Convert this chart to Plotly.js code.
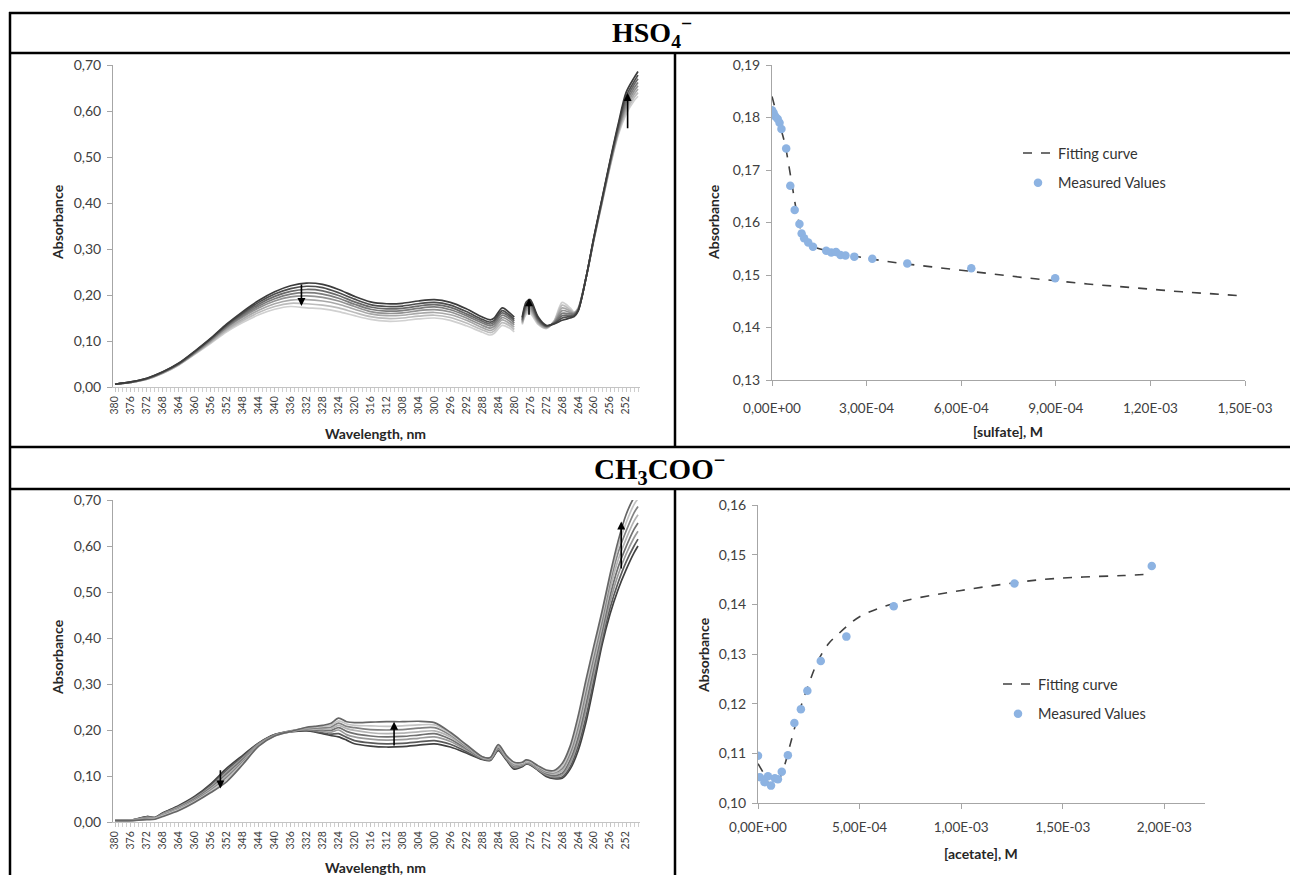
<!DOCTYPE html>
<html><head><meta charset="utf-8">
<script src="https://cdn.plot.ly/plotly-3.0.1.min.js"></script>
<style>html,body{margin:0;padding:0;background:#fff;}#chart{width:1290px;height:875px;}</style>
</head><body><div id="chart"></div>
<script>
// ---------- DATA ----------
// HSO4- titration spectra (wavelength, nm)
const WL_HSO4 = [380,376,372,368,364,360,356,352,348,344,340,336,332,328,324,320,316,312,308,304,300,296,292,
  288,286,285,283,281,280,279,278,277,276,274,272,270,268,266,265,264,262,260,258,256,254,252,250,249];
const HSO4_S0 = [0.006,0.011,0.019,0.033,0.052,0.078,0.106,0.137,0.164,0.188,0.207,0.220,0.226,0.223,0.212,0.197,0.185,0.181,0.182,0.187,0.190,0.184,0.170,
  0.152,0.146,0.150,0.172,0.160,0.152,null,0.152,0.185,0.190,0.152,0.134,0.137,0.145,0.150,0.153,0.165,0.238,0.328,0.410,0.492,0.570,0.640,0.672,0.686];
const HSO4_S1 = [0.006,0.011,0.019,0.033,0.051,0.077,0.105,0.135,0.161,0.184,0.202,0.214,0.219,0.216,0.205,0.191,0.179,0.175,0.176,0.181,0.184,0.178,0.164,
  0.147,0.141,0.145,0.166,0.155,0.147,null,0.149,0.180,0.186,0.149,0.133,0.138,0.150,0.153,0.155,0.166,0.238,0.327,0.408,0.490,0.566,0.632,0.664,0.678];
const HSO4_S2 = [0.006,0.011,0.018,0.032,0.051,0.076,0.104,0.133,0.158,0.180,0.197,0.208,0.212,0.209,0.199,0.185,0.174,0.170,0.171,0.176,0.179,0.173,0.159,
  0.143,0.137,0.141,0.161,0.151,0.143,null,0.146,0.176,0.181,0.146,0.132,0.139,0.155,0.156,0.157,0.167,0.238,0.326,0.407,0.488,0.562,0.624,0.657,0.670];
const HSO4_S3 = [0.006,0.010,0.018,0.032,0.050,0.075,0.102,0.131,0.155,0.176,0.192,0.202,0.205,0.202,0.193,0.180,0.169,0.165,0.166,0.171,0.174,0.168,0.155,
  0.139,0.133,0.137,0.156,0.147,0.139,null,0.144,0.172,0.176,0.144,0.131,0.140,0.160,0.159,0.159,0.168,0.238,0.325,0.405,0.486,0.558,0.617,0.650,0.662];
const HSO4_S4 = [0.006,0.010,0.018,0.031,0.050,0.074,0.101,0.129,0.152,0.172,0.187,0.196,0.198,0.195,0.187,0.175,0.164,0.160,0.161,0.166,0.168,0.163,0.150,
  0.134,0.128,0.132,0.151,0.142,0.135,null,0.142,0.168,0.172,0.142,0.130,0.141,0.166,0.162,0.160,0.169,0.238,0.324,0.404,0.484,0.555,0.610,0.643,0.655];
const HSO4_S5 = [0.006,0.010,0.017,0.031,0.049,0.073,0.099,0.126,0.148,0.167,0.181,0.189,0.190,0.187,0.180,0.169,0.159,0.155,0.156,0.160,0.162,0.157,0.145,
  0.129,0.123,0.127,0.146,0.137,0.130,null,0.140,0.165,0.168,0.140,0.129,0.142,0.172,0.165,0.161,0.170,0.238,0.323,0.402,0.482,0.552,0.604,0.636,0.648];
const HSO4_S6 = [0.006,0.010,0.017,0.030,0.048,0.072,0.097,0.123,0.144,0.162,0.175,0.182,0.181,0.178,0.172,0.162,0.153,0.149,0.150,0.154,0.156,0.151,0.139,
  0.124,0.118,0.122,0.140,0.132,0.125,null,0.138,0.161,0.164,0.138,0.128,0.143,0.178,0.168,0.162,0.171,0.238,0.322,0.401,0.480,0.549,0.598,0.629,0.640];
const HSO4_S7 = [0.006,0.010,0.017,0.030,0.048,0.071,0.095,0.120,0.140,0.157,0.169,0.175,0.172,0.170,0.164,0.155,0.147,0.143,0.144,0.148,0.150,0.145,0.133,
  0.119,0.113,0.117,0.134,0.127,0.120,null,0.136,0.158,0.160,0.136,0.127,0.144,0.184,0.172,0.163,0.172,0.238,0.321,0.400,0.478,0.546,0.592,0.622,0.632];

// CH3COO- titration spectra
const WL_ACET = [380,376,372,370,368,364,360,356,352,348,344,340,336,332,330,328,326,324,322,320,316,312,308,304,300,296,292,288,
  286,284,282,280,278,277,276,274,272,270,268,266,264,262,260,258,256,254,252,250,249];
const ACET_S0 = [0.004,0.004,0.012,0.010,0.020,0.036,0.056,0.083,0.117,0.145,0.172,0.190,0.196,0.198,0.196,0.192,0.188,0.185,0.178,0.170,0.165,0.163,0.164,0.167,0.170,0.163,0.150,0.136,
  0.134,0.155,0.135,0.115,0.120,0.126,0.124,0.112,0.099,0.094,0.095,0.115,0.155,0.218,0.300,0.385,0.452,0.505,0.548,0.585,0.600];
const ACET_S1 = [0.004,0.004,0.011,0.009,0.019,0.034,0.054,0.080,0.113,0.142,0.171,0.190,0.197,0.200,0.197,0.194,0.191,0.192,0.184,0.177,0.172,0.170,0.171,0.174,0.177,0.169,0.153,0.137,
  0.135,0.157,0.137,0.117,0.122,0.127,0.125,0.113,0.101,0.096,0.098,0.120,0.165,0.230,0.312,0.395,0.465,0.520,0.565,0.600,0.615];
const ACET_S2 = [0.004,0.004,0.010,0.009,0.018,0.033,0.052,0.077,0.109,0.139,0.170,0.189,0.197,0.201,0.199,0.197,0.195,0.200,0.190,0.185,0.180,0.178,0.179,0.182,0.185,0.175,0.157,0.138,
  0.136,0.159,0.138,0.119,0.123,0.128,0.126,0.114,0.103,0.098,0.102,0.127,0.175,0.245,0.325,0.405,0.478,0.537,0.582,0.618,0.632];
const ACET_S3 = [0.004,0.004,0.009,0.008,0.017,0.031,0.050,0.074,0.105,0.136,0.169,0.189,0.198,0.202,0.200,0.200,0.199,0.205,0.197,0.192,0.187,0.185,0.186,0.189,0.192,0.180,0.160,0.139,
  0.137,0.161,0.140,0.121,0.124,0.129,0.128,0.116,0.105,0.101,0.106,0.135,0.185,0.258,0.338,0.415,0.492,0.553,0.598,0.636,0.650];
const ACET_S4 = [0.004,0.004,0.008,0.008,0.016,0.030,0.048,0.072,0.101,0.133,0.168,0.188,0.197,0.203,0.202,0.203,0.202,0.210,0.203,0.199,0.194,0.192,0.193,0.196,0.198,0.185,0.162,0.140,
  0.138,0.163,0.141,0.123,0.125,0.130,0.129,0.117,0.107,0.104,0.111,0.143,0.196,0.272,0.350,0.426,0.506,0.569,0.615,0.654,0.668];
const ACET_S5 = [0.003,0.003,0.007,0.007,0.015,0.028,0.047,0.069,0.097,0.131,0.167,0.188,0.197,0.204,0.204,0.205,0.206,0.215,0.208,0.205,0.201,0.200,0.201,0.204,0.205,0.189,0.164,0.141,
  0.139,0.165,0.142,0.125,0.127,0.132,0.130,0.119,0.109,0.107,0.116,0.150,0.207,0.285,0.362,0.437,0.520,0.585,0.632,0.672,0.686];
const ACET_S6 = [0.003,0.003,0.006,0.007,0.014,0.027,0.045,0.067,0.093,0.128,0.166,0.187,0.197,0.205,0.206,0.208,0.210,0.220,0.213,0.210,0.209,0.208,0.209,0.211,0.211,0.192,0.166,0.141,
  0.139,0.166,0.143,0.127,0.128,0.133,0.131,0.120,0.111,0.109,0.121,0.157,0.218,0.298,0.374,0.448,0.530,0.598,0.650,0.690,0.703];
const ACET_S7 = [0.003,0.003,0.005,0.006,0.012,0.025,0.043,0.064,0.088,0.125,0.165,0.187,0.197,0.206,0.208,0.210,0.214,0.226,0.218,0.216,0.217,0.218,0.218,0.219,0.216,0.195,0.168,0.142,
  0.140,0.168,0.145,0.130,0.130,0.135,0.133,0.122,0.113,0.112,0.127,0.165,0.230,0.310,0.385,0.458,0.538,0.610,0.668,0.705,0.715];

// Sulfate binding isotherm
const SULF_CONC = [0,5e-6,1.1e-5,1.8e-5,2.4e-5,3.0e-5,4.5e-5,5.8e-5,7.2e-5,8.7e-5,9.4e-5,1.02e-4,1.15e-4,1.30e-4,1.72e-4,1.88e-4,2.03e-4,2.17e-4,2.33e-4,2.61e-4,3.18e-4,4.29e-4,6.32e-4,8.98e-4];
const SULF_ABS  = [0.1814,0.1809,0.1802,0.1797,0.1790,0.1778,0.1741,0.1670,0.1624,0.1597,0.1579,0.1570,0.1562,0.1554,0.1546,0.1543,0.1544,0.1538,0.1537,0.1535,0.1531,0.1522,0.1513,0.1494];
const SULF_FIT_X = [0,2e-5,4e-5,6e-5,8e-5,1e-4,1.2e-4,1.5e-4,2e-4,3e-4,4e-4,5e-4,6e-4,7e-4,8e-4,9e-4,1e-3,1.1e-3,1.2e-3,1.3e-3,1.4e-3,1.5e-3];
const SULF_FIT_Y = [0.1840,0.1795,0.1752,0.1685,0.1615,0.1572,0.1558,0.1550,0.1543,0.1532,0.1523,0.1516,0.1509,0.1502,0.1495,0.1489,0.1483,0.1478,0.1473,0.1468,0.1464,0.1460];

// Acetate binding isotherm
const ACET_CONC = [0,9.4e-6,3.2e-5,4.9e-5,6.4e-5,8.3e-5,9.8e-5,1.17e-4,1.47e-4,1.79e-4,2.11e-4,2.43e-4,3.09e-4,4.35e-4,6.68e-4,1.262e-3,1.938e-3];
const ACET_ABS  = [0.1095,0.1052,0.1042,0.1054,0.1035,0.1050,0.1048,0.1063,0.1096,0.1161,0.1189,0.1226,0.1286,0.1335,0.1396,0.1442,0.1477];
const ACET_FIT_X = [0,3e-5,6.5e-5,1e-4,1.3e-4,1.6e-4,2e-4,2.5e-4,3e-4,3.5e-4,4e-4,4.5e-4,5e-4,6e-4,7e-4,8e-4,1e-3,1.2e-3,1.4e-3,1.6e-3,1.8e-3,1.94e-3];
const ACET_FIT_Y = [0.1079,0.1058,0.1033,0.1045,0.1075,0.1120,0.1180,0.1240,0.1290,0.1322,0.1342,0.1360,0.1375,0.1393,0.1405,0.1414,0.1428,0.1440,0.1450,0.1455,0.1458,0.1461];

// Tick labels
const WL_TICKS = [380,376,372,368,364,360,356,352,348,344,340,336,332,328,324,320,316,312,308,304,300,296,292,288,284,280,276,272,268,264,260,256,252];
const SULF_TICKS = [0,3e-4,6e-4,9e-4,1.2e-3,1.5e-3];
const SULF_TICK_TEXT = ['0,00E+00','3,00E-04','6,00E-04','9,00E-04','1,20E-03','1,50E-03'];
const ACET_TICKS = [0,5e-4,1e-3,1.5e-3,2e-3];
const ACET_TICK_TEXT = ['0,00E+00','5,00E-04','1,00E-03','1,50E-03','2,00E-03'];

// ---------- BUILD ----------
const W = 1290, H = 875;
const PX = v => v / W, PY = v => 1 - v / H;
const FONT = 'Lato, "Open Sans", "Liberation Sans", sans-serif';
const SERIF = '"Liberation Serif", "Times New Roman", serif';

const HSO4_SET = [HSO4_S0,HSO4_S1,HSO4_S2,HSO4_S3,HSO4_S4,HSO4_S5,HSO4_S6,HSO4_S7];
const HSO4_COL = ['#3c3c3c','#4e4e4e','#6a6a6a','#7c7c7c','#929292','#a8a8a8','#bcbcbc','#d0d0d0'];
const ACET_SET = [ACET_S0,ACET_S1,ACET_S2,ACET_S3,ACET_S4,ACET_S5,ACET_S6,ACET_S7];
const ACET_COL = ['#404040','#5a5a5a','#9a9a9a','#707070','#b4b4b4','#828282','#c4c4c4','#666666'];

const traces = [];
HSO4_SET.slice().reverse().forEach((s,i)=>{
  const k = HSO4_SET.length-1-i;
  traces.push({x:WL_HSO4, y:s, xaxis:'x', yaxis:'y', mode:'lines', connectgaps:false,
    line:{color:HSO4_COL[k], width:1.7, shape:'spline', smoothing:0.8}, showlegend:false, hoverinfo:'skip'});
});
ACET_SET.forEach((s,k)=>{
  traces.push({x:WL_ACET, y:s, xaxis:'x3', yaxis:'y3', mode:'lines',
    line:{color:ACET_COL[k], width:1.7, shape:'spline', smoothing:0.8}, showlegend:false, hoverinfo:'skip'});
});
traces.push({x:SULF_FIT_X, y:SULF_FIT_Y, xaxis:'x2', yaxis:'y2', mode:'lines', name:'Fitting curve',
  line:{color:'#404040', width:1.6, dash:'dash', shape:'spline'}, legend:'legend', legendgroup:'f1'});
traces.push({x:SULF_CONC, y:SULF_ABS, xaxis:'x2', yaxis:'y2', mode:'markers', name:'Measured Values',
  marker:{color:'#8DB3E2', size:8.5}, legend:'legend', legendgroup:'m1'});
traces.push({x:ACET_FIT_X, y:ACET_FIT_Y, xaxis:'x4', yaxis:'y4', mode:'lines', name:'Fitting curve',
  line:{color:'#404040', width:1.6, dash:'dash', shape:'spline'}, legend:'legend2', legendgroup:'f2'});
traces.push({x:ACET_CONC, y:ACET_ABS, xaxis:'x4', yaxis:'y4', mode:'markers', name:'Measured Values',
  marker:{color:'#8DB3E2', size:8.5}, legend:'legend2', legendgroup:'m2'});

function axis(extra){
  return Object.assign({showline:true, linecolor:'#a6a6a6', linewidth:1, ticks:'outside', ticklen:5,
    tickcolor:'#a6a6a6', showgrid:false, zeroline:false, automargin:false, fixedrange:true,
    tickfont:{family:FONT, size:14, color:'#404040'}}, extra);
}
function yAxis(extra){ return axis(Object.assign({ticklabelstandoff:3}, extra)); }
function wlAxis(anchor){
  return axis({anchor:anchor, domain:[PX(113),PX(640)], range:[380.5,248.5], tickmode:'array',
    tickvals:WL_TICKS, ticktext:WL_TICKS.map(String), tickangle:-90, ticklen:4, tickcolor:'#c4c4c4',
    linecolor:'#c4c4c4', tickfont:{family:FONT, size:10.5, color:'#404040'},
    minor:{tickmode:'linear', tick0:380, dtick:1, ticks:'outside', ticklen:4, tickcolor:'#cfcfcf'}});
}

const ann = [];
function txt(x,y,t,opt){ ann.push(Object.assign({xref:'paper', yref:'paper', x:PX(x), y:PY(y), text:t, showarrow:false,
  xanchor:'center', yanchor:'middle', font:{family:FONT, size:14, color:'#262626'}}, opt||{})); }
// headers
txt(652,33,'<b>HSO<sub>4</sub><sup>−</sup></b>',{font:{family:SERIF,size:28,color:'#000'}});
txt(659,469,'<b>CH<sub>3</sub>COO<sup>−</sup></b>',{font:{family:SERIF,size:29,color:'#000'}});
// axis titles
txt(57,222,'<b>Absorbance</b>',{textangle:-90});
txt(375,433,'<b>Wavelength, nm</b>');
txt(713,222,'<b>Absorbance</b>',{textangle:-90});
txt(1008,431,'<b>[sulfate], M</b>');
txt(57,657,'<b>Absorbance</b>',{textangle:-90});
txt(375,867,'<b>Wavelength, nm</b>');
txt(703,655,'<b>Absorbance</b>',{textangle:-90});
txt(981,853,'<b>[acetate], M</b>');
// arrows
function arrow(xa,ya,x,y0,y1){ ann.push({xref:xa, yref:ya, axref:xa, ayref:ya, x:x, y:y1, ax:x, ay:y0, text:'',
  showarrow:true, arrowhead:2, arrowsize:1, arrowwidth:1.6, arrowcolor:'#000'}); }
arrow('x','y',333.3,0.226,0.176);
arrow('x','y',276.3,0.154,0.193);
arrow('x','y',251.6,0.559,0.639);
arrow('x3','y3',353.6,0.116,0.073);
arrow('x3','y3',310.1,0.163,0.218);
arrow('x3','y3',253.2,0.548,0.653);

const shapes = [];
function hl(y,x0,x1){ shapes.push({type:'line', xref:'paper', yref:'paper', x0:PX(x0), x1:PX(x1), y0:PY(y), y1:PY(y), line:{color:'#000', width:2.5}}); }
function vl(x,y0,y1){ shapes.push({type:'line', xref:'paper', yref:'paper', x0:PX(x), x1:PX(x), y0:PY(y0), y1:PY(y1), line:{color:'#000', width:2.5}}); }
hl(13,9,1290); hl(53,9,1290); hl(447,9,1290); hl(489,9,1290);
vl(10,12,875); vl(675,53,447); vl(675,489,875);

const layout = {
  width:W, height:H, margin:{l:0,r:0,t:0,b:0}, paper_bgcolor:'#fff', plot_bgcolor:'#fff',
  separators:',.', font:{family:FONT, size:12, color:'#333'}, hovermode:false,
  xaxis: wlAxis('y'),
  yaxis: yAxis({anchor:'x', domain:[PY(387),PY(65)], range:[0,0.70], dtick:0.1, tick0:0, tickformat:'.2f'}),
  xaxis2: axis({anchor:'y2', domain:[PX(772),PX(1245)], range:[0,1.5e-3], tickmode:'array', tickvals:SULF_TICKS, ticktext:SULF_TICK_TEXT, ticklabelstandoff:11, tickfont:{family:FONT, size:13.5, color:'#404040'}}),
  yaxis2: yAxis({anchor:'x2', domain:[PY(380),PY(65)], range:[0.13,0.19], dtick:0.01, tick0:0.13, tickformat:'.2f'}),
  xaxis3: wlAxis('y3'),
  yaxis3: yAxis({anchor:'x3', domain:[PY(822),PY(500)], range:[0,0.70], dtick:0.1, tick0:0, tickformat:'.2f'}),
  xaxis4: axis({anchor:'y4', domain:[PX(758),PX(1205)], range:[0,2.2e-3], tickmode:'array', tickvals:ACET_TICKS, ticktext:ACET_TICK_TEXT, ticklabelstandoff:7, tickfont:{family:FONT, size:13.5, color:'#404040'}}),
  yaxis4: yAxis({anchor:'x4', domain:[PY(803),PY(505)], range:[0.10,0.16], dtick:0.01, tick0:0.10, tickformat:'.2f'}),
  legend: {x:PX(1018), y:PY(137), xanchor:'left', yanchor:'top', bgcolor:'rgba(0,0,0,0)', tracegroupgap:8,
    font:{family:FONT, size:14.5, color:'#333'}},
  legend2: {x:PX(998), y:PY(668), xanchor:'left', yanchor:'top', bgcolor:'rgba(0,0,0,0)', tracegroupgap:8,
    font:{family:FONT, size:14.5, color:'#333'}},
  annotations: ann, shapes: shapes
};
Plotly.newPlot('chart', traces, layout, {displayModeBar:false, staticPlot:true});
</script></body></html>
